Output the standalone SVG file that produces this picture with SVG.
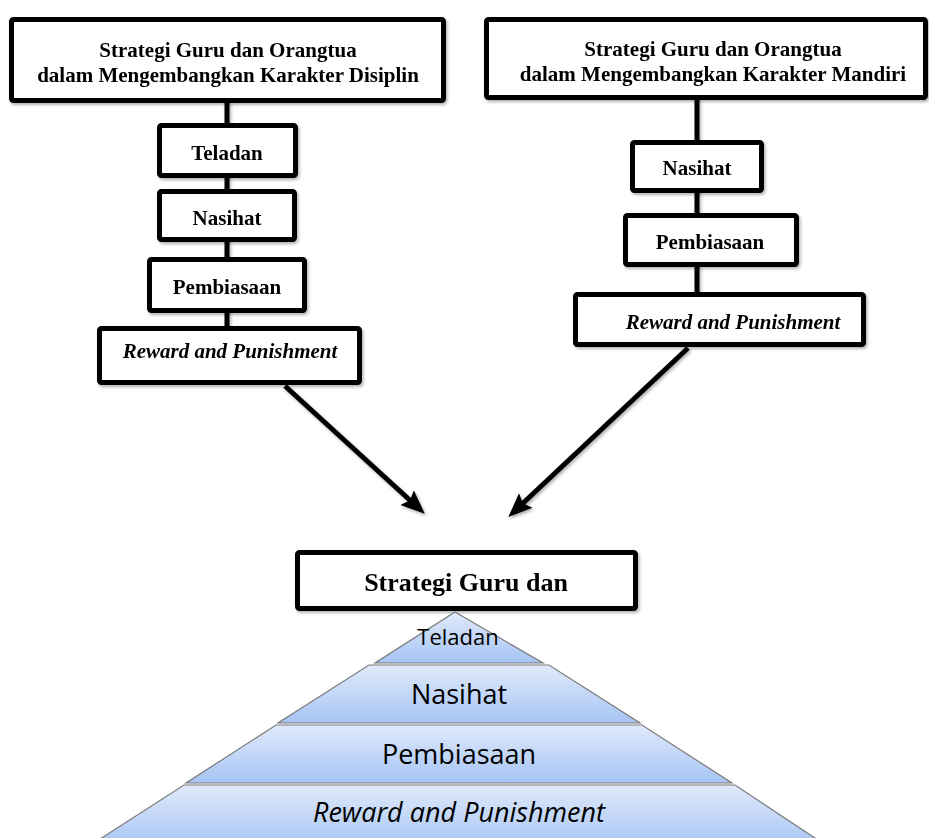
<svg xmlns="http://www.w3.org/2000/svg" width="929" height="838" viewBox="0 0 929 838">
<defs>
<style>
.box{fill:#fff;stroke:#000;stroke-width:5;}
.t{font-family:"Liberation Serif","Times New Roman",serif;font-weight:bold;font-size:21px;fill:#000;text-anchor:middle;}
.it{font-style:italic;}
.conn{stroke:#000;stroke-width:5;fill:none;}
.lay{stroke:#7a7a7a;stroke-width:1.2;fill:url(#g);}
.p{font-family:"Open Sans","Noto Sans",sans-serif;fill:#000;text-anchor:middle;}
</style>
<linearGradient id="g" x1="0" y1="0" x2="0" y2="1">
<stop offset="0" stop-color="#e0eafb"/>
<stop offset="1" stop-color="#a6c4f4"/>
</linearGradient>
<filter id="sh" x="-10%" y="-10%" width="130%" height="140%">
<feDropShadow dx="1.5" dy="2" stdDeviation="1.5" flood-color="#000" flood-opacity="0.3"/>
</filter>
<marker id="ah" markerUnits="userSpaceOnUse" markerWidth="28" markerHeight="24" refX="8" refY="10" orient="auto">
<path d="M0,0 L24,10 L0,20 L4,10 z" fill="#000"/>
</marker>
</defs>

<g id="connectors" filter="url(#sh)">
<line class="conn" x1="227" y1="100" x2="227" y2="330"/>
<line class="conn" x1="697" y1="98" x2="697" y2="296"/>
<line class="conn" x1="285" y1="386" x2="413" y2="503" marker-end="url(#ah)"/>
<line class="conn" x1="688" y1="348" x2="520" y2="506" marker-end="url(#ah)"/>
</g>

<g id="disiplin" filter="url(#sh)">
<rect class="box" x="11.5" y="19.5" width="432" height="81" rx="2"/>
<text class="t" x="228" y="57">Strategi Guru dan Orangtua</text>
<text class="t" x="228" y="82">dalam Mengembangkan Karakter Disiplin</text>
</g>
<g id="d-teladan" filter="url(#sh)">
<rect class="box" x="159.5" y="125.5" width="136" height="50" rx="2"/>
<text class="t" x="227" y="160">Teladan</text>
</g>
<g id="d-nasihat" filter="url(#sh)">
<rect class="box" x="159.5" y="191.5" width="135" height="48" rx="2"/>
<text class="t" x="227" y="225">Nasihat</text>
</g>
<g id="d-pembiasaan" filter="url(#sh)">
<rect class="box" x="149.5" y="259.5" width="155" height="51" rx="2"/>
<text class="t" x="227" y="294">Pembiasaan</text>
</g>
<g id="d-reward" filter="url(#sh)">
<rect class="box" x="99.5" y="328.5" width="260" height="54" rx="2"/>
<text class="t it" x="230" y="358">Reward and Punishment</text>
</g>

<g id="mandiri" filter="url(#sh)">
<rect class="box" x="486.5" y="19.5" width="439" height="78" rx="2"/>
<text class="t" x="713" y="56">Strategi Guru dan Orangtua</text>
<text class="t" x="713" y="81">dalam Mengembangkan Karakter Mandiri</text>
</g>
<g id="m-nasihat" filter="url(#sh)">
<rect class="box" x="632.5" y="142.5" width="129" height="48" rx="2"/>
<text class="t" x="697" y="175">Nasihat</text>
</g>
<g id="m-pembiasaan" filter="url(#sh)">
<rect class="box" x="625.5" y="215.5" width="171" height="49" rx="2"/>
<text class="t" x="710" y="249">Pembiasaan</text>
</g>
<g id="m-reward" filter="url(#sh)">
<rect class="box" x="575.5" y="294.5" width="288" height="50" rx="2"/>
<text class="t it" x="733" y="329">Reward and Punishment</text>
</g>

<g id="gabungan" filter="url(#sh)">
<rect class="box" x="297.5" y="552.5" width="338" height="56" rx="2"/>
<text class="t" x="466" y="591" style="font-size:26px">Strategi Guru dan</text>
</g>

<g id="piramida">
<g id="p-teladan">
<polygon class="lay" points="455,612 543,663 375,663"/>
<text class="p" x="458" y="645" style="font-size:22px">Teladan</text>
</g>
<g id="p-nasihat">
<polygon class="lay" points="369,665 549,665 640,723 278,723"/>
<text class="p" x="459" y="704" style="font-size:27px">Nasihat</text>
</g>
<g id="p-pembiasaan">
<polygon class="lay" points="276,725 642,725 732,783 186,783"/>
<text class="p" x="459" y="764" style="font-size:27px">Pembiasaan</text>
</g>
<g id="p-reward">
<polygon class="lay" points="184,785 735,785 830,848 86,848"/>
<text class="p" x="459" y="822" style="font-size:27px;font-style:italic">Reward and Punishment</text>
</g>
</g>
</svg>
